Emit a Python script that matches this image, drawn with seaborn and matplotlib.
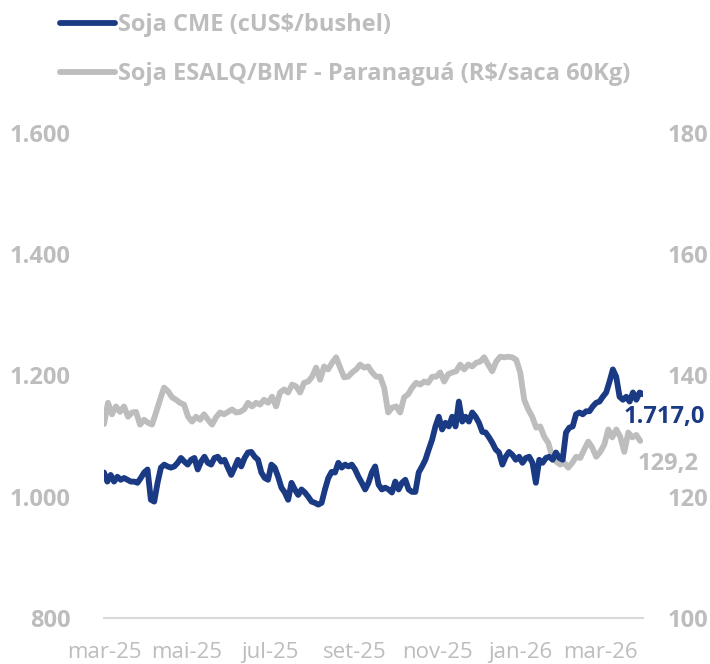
import pandas as pd
import seaborn as sns
import matplotlib.pyplot as plt

# Soja CME (cUS$/bushel) - left axis
cme = [1040, 1025, 1036, 1025, 1033, 1028, 1031, 1028, 1025, 1025, 1023, 1031, 1040, 1045, 995, 992,
       1023, 1048, 1053, 1050, 1048, 1050, 1056, 1064, 1058, 1053, 1061, 1064, 1045, 1058, 1066, 1056,
       1053, 1064, 1066, 1058, 1061, 1048, 1036, 1048, 1061,
       1050, 1064, 1073, 1074, 1066, 1061, 1040, 1031, 1028, 1053, 1048, 1033, 1015, 1007, 995, 1023,
       1012, 1003, 1012, 1007, 1000, 992, 990, 987, 990, 1012, 1031, 1041, 1040, 1056, 1048, 1053,
       1050, 1053, 1045, 1033, 1023, 1012, 1023, 1040, 1050,
       1020, 1012, 1015, 1012, 1007, 1025, 1012, 1023, 1028, 1012, 1008, 1008, 1040, 1050, 1061, 1078,
       1094, 1116, 1132, 1111, 1122, 1116, 1132, 1116, 1157, 1124, 1132, 1124, 1139, 1132, 1122, 1107,
       1106, 1098, 1089, 1078, 1073, 1053, 1066, 1074,
       1069, 1061, 1066, 1056, 1064, 1066, 1056, 1023, 1061, 1056, 1064, 1066, 1061, 1073, 1064, 1061,
       1106, 1114, 1116, 1136, 1139, 1136, 1141, 1141, 1149, 1155, 1157, 1165, 1172, 1190, 1210, 1198,
       1165, 1160, 1165, 1157, 1172, 1160, 1172, 1169]

# Soja ESALQ/BMF - Paranagua (R$/saca 60Kg) - right axis
esalq = [132.0, 135.5, 133.6, 134.9, 134.0, 134.9, 133.2, 133.9, 134.0, 131.9, 132.7, 132.2, 131.9,
         133.9, 136.0, 138.0, 137.4, 136.4, 136.0, 135.5, 135.2, 133.2, 132.4, 133.2, 132.7, 133.6,
         132.7, 131.9, 133.1, 133.9, 133.6, 134.0, 134.4, 133.9, 134.0,
         134.4, 135.5, 134.9, 135.5, 135.2, 136.0, 135.5, 136.5, 134.9, 137.2, 137.7, 137.2, 138.5,
         138.2, 137.2, 138.8, 139.0, 139.8, 141.3, 139.3, 141.5, 141.0, 142.1, 143.0, 141.3, 139.7,
         139.8, 140.5, 141.0, 141.8, 141.3, 141.5, 140.5, 139.8,
         139.8, 138.0, 133.9, 134.7, 134.9, 133.9, 136.4, 136.9, 138.0, 138.8, 138.5, 139.0, 138.8,
         139.8, 139.8, 140.5, 139.0, 140.2, 140.5, 140.7, 141.8, 141.0, 141.8, 141.5, 142.1, 142.3,
         143.0, 141.8, 140.7, 142.3, 143.1, 143.0, 143.1,
         143.0, 142.6, 140.5, 136.0, 134.4, 133.2, 131.4, 131.6, 129.9, 128.9, 126.6, 125.8, 125.3,
         125.6, 124.8, 125.6, 126.6, 126.4, 127.8, 129.1, 128.1, 126.6, 127.4, 128.6, 131.1, 129.8,
         131.1, 129.9, 127.4, 130.6, 129.8, 130.2, 129.2]

start, end_cme, end_esalq = '2025-03-01', '2026-04-01', '2026-03-30'
tick_dates = ['2025-03-01', '2025-05-01', '2025-07-01', '2025-09-01', '2025-11-01', '2026-01-01', '2026-03-01']
tick_labels = ['mar-25', 'mai-25', 'jul-25', 'set-25', 'nov-25', 'jan-26', 'mar-26']
cme_label = '1.717,0'
esalq_label = '129,2'

df_cme = pd.DataFrame({'data': pd.date_range(start, end_cme, periods=len(cme)), 'valor': cme})
df_esalq = pd.DataFrame({'data': pd.date_range(start, end_esalq, periods=len(esalq)), 'valor': esalq})

blue = '#1B3A84'
gray = '#BDBDBD'

sns.set_style('white')
plt.rcParams['font.family'] = ['Open Sans', 'DejaVu Sans']

fig = plt.figure(figsize=(7.1, 6.64), dpi=100)
ax = fig.add_axes([104 / 710, 1 - 618 / 664, 539 / 710, 485 / 664])
ax2 = ax.twinx()

sns.lineplot(data=df_cme, x='data', y='valor', ax=ax, color=blue, linewidth=4.2,
             label='Soja CME (cUS$/bushel)', legend=False)
sns.lineplot(data=df_esalq, x='data', y='valor', ax=ax2, color=gray, linewidth=4.2,
             label='Soja ESALQ/BMF - Paranaguá (R$/saca 60Kg)', legend=False)

# blue line over the gray one
ax.set_zorder(ax2.get_zorder() + 1)
ax.patch.set_visible(False)

ax.set_xlim(pd.Timestamp(start), pd.Timestamp(end_cme))
ax.set_ylim(800, 1600)
ax2.set_ylim(100, 180)
ax.set_yticks(range(800, 1601, 200))
ax.set_yticklabels([f'{v:,}'.replace(',', '.') for v in range(800, 1601, 200)])
ax2.set_yticks(range(100, 181, 20))
ax.set_xticks(pd.to_datetime(tick_dates))
ax.set_xticklabels(tick_labels)
ax.set_xlabel('')
ax.set_ylabel('')
ax2.set_ylabel('')

for a in (ax, ax2):
    for s in a.spines.values():
        s.set_visible(False)
ax.spines['bottom'].set_visible(True)
ax.spines['bottom'].set_color('#D9D9D9')
ax.spines['bottom'].set_linewidth(1.5)

ax.tick_params(axis='y', length=0, pad=24, labelsize=17, labelcolor=gray)
ax2.tick_params(axis='y', length=0, pad=18, labelsize=17, labelcolor=gray)
ax.tick_params(axis='x', length=0, pad=17, labelsize=16, labelcolor=gray)
for lab in ax.get_yticklabels() + ax2.get_yticklabels():
    lab.set_fontweight('bold')

# end labels
ax.annotate(cme_label, xy=(df_cme['data'].iloc[-1], cme[-1]), xytext=(62, -23),
            textcoords='offset pixels', ha='right', va='center', fontsize=17,
            fontweight='bold', color=blue)
ax2.annotate(esalq_label, xy=(df_esalq['data'].iloc[-1], esalq[-1]), xytext=(58, -23),
             textcoords='offset pixels', ha='right', va='center', fontsize=17,
             fontweight='bold', color=gray)

h1, l1 = ax.get_legend_handles_labels()
h2, l2 = ax2.get_legend_handles_labels()
fig.legend(h1 + h2, l1 + l2, loc='upper left', bbox_to_anchor=(60 / 710, 1 - 13 / 664),
           frameon=False, prop={'weight': 'bold', 'size': 17}, labelcolor=gray,
           handlelength=2.35, handletextpad=0.12, labelspacing=1.05, borderpad=0, borderaxespad=0)

plt.savefig('out.png', dpi=100)
